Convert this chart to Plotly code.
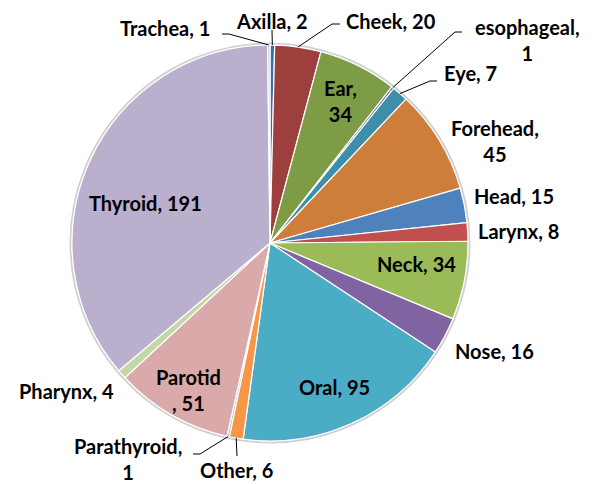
"""Pie of cases by anatomical site."""

import math

import plotly.graph_objects as go

# page is 597x484; the html body keeps an 8px margin, so the figure is 8px smaller
PAD = 8
W, H = 597 - PAD, 484 - PAD

sites = [
    "Axilla", "Cheek", "Ear", "esophageal", "Eye", "Forehead", "Head",
    "Larynx", "Neck", "Nose", "Oral", "Other", "Parathyroid", "Parotid",
    "Pharynx", "Thyroid", "Trachea",
]
counts = [2, 20, 34, 1, 7, 45, 15, 8, 34, 16, 95, 6, 1, 51, 4, 191, 1]
colors = [
    "#3A6EA5", "#9D403D", "#7D9C45", "#5F4B8B", "#3B8FA9", "#CF7D3A",
    "#4F81BD", "#C0504D", "#9BBB59", "#8064A2", "#4BACC6", "#F79646",
    "#A5C4E4", "#D9AAA9", "#C4D7A6", "#BAAFCC", "#B9CDE5",
]

# pie geometry in page pixels
CX, CY, R = 270, 243, 198

# label text, text centre (px), leader line elbow (px) or None
label_layout = {
    "Trachea": ("Trachea, 1", (165, 28), [(222, 34), (229, 34)]),
    "Axilla": ("Axilla, 2", (272, 21), [(272, 30)]),
    "Cheek": ("Cheek, 20", (391, 21), [(340, 24), (332, 24)]),
    "esophageal": ("esophageal,<br>1", (527, 40), [(462, 32), (455, 32)]),
    "Eye": ("Eye, 7", (470, 73), [(437, 81), (430, 81)]),
    "Forehead": ("Forehead,<br>45", (495, 141), None),
    "Head": ("Head, 15", (514, 196), None),
    "Larynx": ("Larynx, 8", (518, 231), None),
    "Nose": ("Nose, 16", (494, 351), None),
    "Other": ("Other, 6", (236, 470), [(237, 456)]),
    "Parathyroid": ("Parathyroid,<br>1", (128, 459), [(193, 454), (200, 454)]),
    "Pharynx": ("Pharynx, 4", (66, 391), None),
    "Ear": ("Ear,<br>34", (340, 101), None),
    "Neck": ("Neck, 34", (416, 264), None),
    "Oral": ("Oral, 95", (334, 387), None),
    "Parotid": ("Parotid<br>, 51", (188, 390), None),
    "Thyroid": ("Thyroid, 191", (145, 203), None),
}


def px(x):
    return (x - PAD) / W


def py(y):
    return 1 - (y - PAD) / H


fig = go.Figure(
    go.Pie(
        labels=sites,
        values=counts,
        sort=False,
        direction="clockwise",
        rotation=0,
        textinfo="none",
        hoverinfo="label+value",
        marker=dict(colors=colors, line=dict(color="white", width=1.2)),
        domain=dict(x=[px(CX - R), px(CX + R)], y=[py(CY + R), py(CY - R)]),
        showlegend=False,
    )
)

# soft edge round the pie
fig.add_shape(
    type="circle", xref="paper", yref="paper", layer="below",
    x0=px(CX - R - 1.5), x1=px(CX + R + 1.5),
    y0=py(CY + R + 1.5), y1=py(CY - R - 1.5),
    line=dict(color="#D0D0D0", width=2), fillcolor="rgba(0,0,0,0)",
)

total = sum(counts)
cum = 0
for site, n in zip(sites, counts):
    mid = (cum + n / 2) / total * 2 * math.pi
    cum += n
    text, (tx, ty), elbow = label_layout[site]
    fig.add_annotation(
        x=px(tx), y=py(ty), xref="paper", yref="paper",
        xanchor="center", yanchor="middle",
        text=text, showarrow=False,
        font=dict(family="Lato", size=20, color="black", weight="bold"),
    )
    if elbow:
        ex = CX + R * math.sin(mid)
        ey = CY - R * math.cos(mid)
        pts = elbow + [(ex, ey)]
        path = "M " + " L ".join(f"{px(x)},{py(y)}" for x, y in pts)
        fig.add_shape(
            type="path", xref="paper", yref="paper", path=path,
            line=dict(color="black", width=1),
        )

fig.update_layout(
    width=W,
    height=H,
    margin=dict(l=0, r=0, t=0, b=0),
    paper_bgcolor="white",
    plot_bgcolor="white",
)

fig.write_html("out.html")
